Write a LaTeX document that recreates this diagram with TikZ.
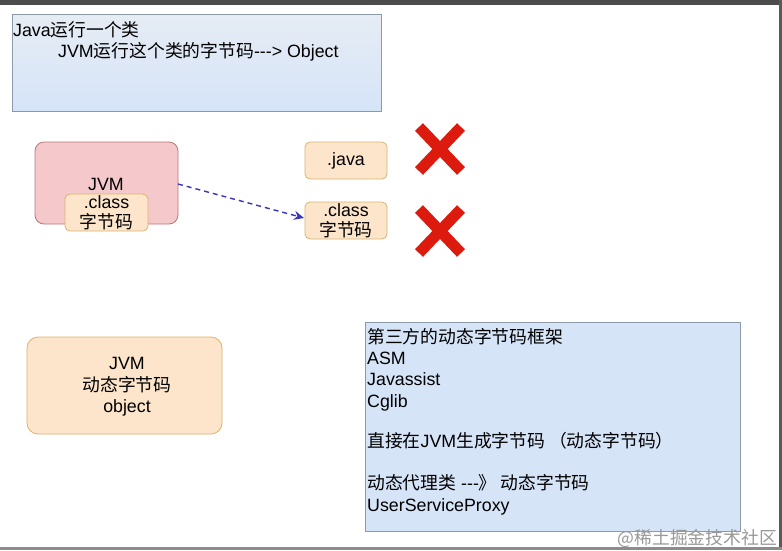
\documentclass[tikz,border=0pt]{standalone}
\usepackage{fontspec}
\setmainfont{Liberation Sans}
\newfontfamily\cjk{Noto Sans CJK SC}
\usetikzlibrary{arrows.meta}
\definecolor{bluefill}{HTML}{D6E4F8}
\definecolor{bluetop}{HTML}{E6ECF4}
\definecolor{blueedge}{HTML}{8D9AAA}
\definecolor{pinkfill}{HTML}{F5C9CB}
\definecolor{pinkedge}{HTML}{B8787A}
\definecolor{orfill}{HTML}{FCE5CB}
\definecolor{oredge}{HTML}{D9B46E}
\definecolor{xred}{HTML}{DD1A0E}
\definecolor{arrowblue}{HTML}{3A34C2}
\newcommand{\tridash}{-\kern0pt-\kern0pt-}
\tikzset{
  txt/.style={font=\fontsize{17.8}{21.3}\selectfont, inner sep=0pt, text=black},
  bluebox/.style={draw=blueedge, line width=0.8pt, fill=bluefill},
  pinkbox/.style={draw=pinkedge, line width=0.8pt, fill=pinkfill, rounded corners=9pt},
  orbox/.style={draw=oredge, line width=0.8pt, fill=orfill, rounded corners=5pt},
  crossline/.style={draw=xred, line width=11pt, line cap=butt},
  dasharrow/.style={draw=arrowblue, line width=1.4pt, dash pattern=on 5pt off 4pt, -{Stealth[length=10pt,width=9pt]}}
}
\begin{document}
\begin{tikzpicture}[x=1pt,y=-1pt]
\useasboundingbox (0,0) rectangle (782,550);
\fill[white] (0,0) rectangle (782,550);
% screen frame
\fill[black!70] (0,0) rectangle (782,5);
\fill[black!65] (779,0) rectangle (782,550);
\fill[black!45] (0,547) rectangle (782,550);

% top box
\shade[top color=bluetop, bottom color=bluefill] (12,14) rectangle (381,111);
\draw[draw=blueedge, line width=0.8pt] (12,14) rectangle (381,111);
\node[txt, anchor=west] (t1) at (13,29.5) {Java{\cjk 运行一个类}};
\node[txt, anchor=west] (t2) at (58,51.5) {JVM{\cjk 运行这个类的字节码}\tridash> Object};

% JVM box with .class
\draw[pinkbox] (35,142) rectangle (178,224);
\node[txt] (jvm1) at (106,184) {JVM};
\draw[orbox] (65,194) rectangle (148,231);
\node[txt, align=center] (cls1) at (106.5,213) {.class\\[-1.5pt]{\cjk 字节码}};
\coordinate (jvmR) at (178,184);

% right boxes
\draw[orbox] (305,142) rectangle (387,179);
\node[txt] (java) at (346,161) {.java};
\draw[orbox] (305,202) rectangle (387,239);
\node[txt, align=center] (cls2) at (346,221) {.class\\[-1.5pt]{\cjk 字节码}};
\coordinate (clsL) at (304,218);

\draw[dasharrow] (jvmR) -- (clsL);

% red crosses
\draw[crossline] (419,127) -- (461,171);
\draw[crossline] (461,127) -- (419,171);
\draw[crossline] (419,209) -- (461,253);
\draw[crossline] (461,209) -- (419,253);

% bottom-left box
\draw[orbox, rounded corners=11pt] (27,337) rectangle (222,434);
\node[txt, align=center] (dyn) at (127,387) {JVM\\{\cjk 动态字节码}\\object};

% bottom-right box
\draw[bluebox] (365,322) rectangle (740,531);
\node[txt, anchor=north west, align=left] (frame) at (367,328) {%
{\cjk 第三方的动态字节码框架}\\
ASM\\
Javassist\\
Cglib\\[19pt]
{\cjk 直接在}JVM{\cjk 生成字节码 （动态字节码）}\\[21pt]
{\cjk 动态代理类} \tridash{\cjk 》 动态字节码}\\
UserServiceProxy};

% watermark
\node[txt, anchor=east, text=black!40] (wm) at (777,538) {{\cjk @稀土掘金技术社区}};
\end{tikzpicture}
\end{document}
